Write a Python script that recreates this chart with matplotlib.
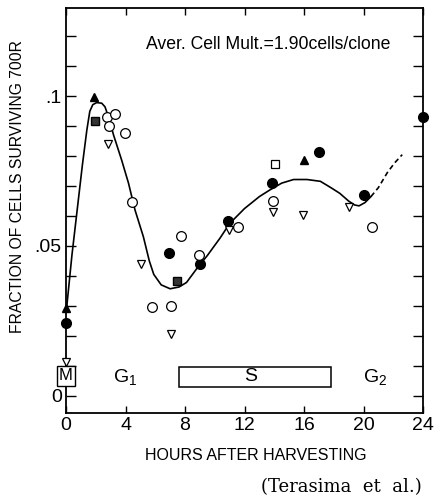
import matplotlib
matplotlib.use("Agg")
import matplotlib.pyplot as plt
from matplotlib.patches import Rectangle
from matplotlib import font_manager

# Narrow sans if available, otherwise Liberation Sans, DejaVu as last fallback
installed = {f.name for f in font_manager.fontManager.ttflist}
sans = [f for f in ['Liberation Sans Narrow', 'DejaVu Sans Condensed', 'Liberation Sans'] if f in installed]
plt.rcParams['font.family'] = sans + ['DejaVu Sans']
plt.rcParams['mathtext.fontset'] = 'custom'
plt.rcParams['mathtext.rm'] = sans[0] if sans else 'DejaVu Sans'
plt.rcParams['mathtext.it'] = sans[0] if sans else 'DejaVu Sans'

# Data (hours after harvesting, surviving fraction)
filled_circle_x = [0.0, 6.9, 9.0, 10.9, 13.87, 17.0, 20.05, 24.0]
filled_circle_y = [0.0242, 0.0478, 0.0440, 0.0585, 0.0709, 0.0815, 0.0669, 0.0932]

filled_tri_x = [0.0, 1.9, 16.0]
filled_tri_y = [0.0294, 0.0998, 0.0787]

filled_sq_x = [1.93, 7.48]
filled_sq_y = [0.0917, 0.0384]

open_sq_x = [14.03]
open_sq_y = [0.0773]

open_circle_x = [2.73, 3.31, 2.87, 3.97, 4.46, 5.76, 7.04, 7.73, 8.94, 11.58, 13.94, 20.55]
open_circle_y = [0.0930, 0.0942, 0.0900, 0.0877, 0.0647, 0.0297, 0.0300, 0.0533, 0.0470, 0.0564, 0.0651, 0.0564]

open_tri_x = [0.0, 2.84, 5.02, 7.04, 10.96, 13.94, 15.95, 19.03]
open_tri_y = [0.0114, 0.0840, 0.0439, 0.0206, 0.0553, 0.0615, 0.0604, 0.0631]

# Hand-drawn fit curve
curve_x = [0.05, 0.4, 0.75, 1.1, 1.4, 1.6, 1.8, 2.06, 2.4, 2.62, 2.85, 3.2, 3.74, 4.2, 4.64,
           5.2, 5.6, 5.9, 6.4, 7.0, 7.6, 8.1, 8.8, 9.5, 10.35, 11.0, 12.0, 13.0, 13.7, 14.5,
           15.3, 16.2, 17.1, 17.8, 18.4, 19.0, 19.4, 19.7, 20.1, 20.5]
curve_y = [0.0297, 0.047, 0.062, 0.077, 0.0887, 0.095, 0.0972, 0.0979, 0.0977, 0.0965, 0.0932,
           0.087, 0.0787, 0.071, 0.062, 0.0531, 0.045, 0.0405, 0.037, 0.0357, 0.0363, 0.0378,
           0.0425, 0.0468, 0.0526, 0.0575, 0.0625, 0.0665, 0.0687, 0.071, 0.0722, 0.0722,
           0.0716, 0.0695, 0.0676, 0.065, 0.0637, 0.0634, 0.0645, 0.0665]
dash_x = [20.5, 21.0, 21.6, 22.1, 22.6]
dash_y = [0.0665, 0.0695, 0.0745, 0.0778, 0.0805]

x_ticks = [0, 4, 8, 12, 16, 20, 24]
y_tick_labels = ['0', '', '', '', '', '.05', '', '', '', '', '.1', '', '']

fig = plt.figure(figsize=(4.38, 5.0), dpi=100)
ax = fig.add_axes([0.1507, 0.1746, 0.8151, 0.8094])

ax.plot(curve_x, curve_y, color='black', lw=1.2, zorder=2)
ax.plot(dash_x, dash_y, color='black', lw=1.2, ls=(0, (3, 2)), zorder=2)

ms = 7
ax.plot(filled_circle_x, filled_circle_y, 'o', ms=ms, mfc='black', mec='black', clip_on=False, zorder=3)
ax.plot(filled_tri_x, filled_tri_y, '^', ms=6, mfc='black', mec='black', clip_on=False, zorder=3)
ax.plot(filled_sq_x, filled_sq_y, 's', ms=5.5, mfc='#333333', mec='black', zorder=3)
ax.plot(open_sq_x, open_sq_y, 's', ms=5.5, mfc='white', mec='black', mew=0.9, zorder=3)
ax.plot(open_circle_x, open_circle_y, 'o', ms=ms, mfc='white', mec='black', mew=0.9, zorder=3)
ax.plot(open_tri_x, open_tri_y, 'v', ms=6, mfc='white', mec='black', mew=0.9, clip_on=False, zorder=3)

# Cell cycle phases
ax.text(0, 0.0066, 'M', ha='center', va='center', fontsize=12,
        bbox=dict(boxstyle='square,pad=0.15', fc='white', ec='black', lw=1))
ax.text(4.0, 0.0062, 'G$_{1}$', ha='center', va='center', fontsize=14)
ax.add_patch(Rectangle((7.6, 0.003), 10.2, 0.0067, fill=False, ec='black', lw=1.1))
ax.text(12.4, 0.0064, 'S', ha='center', va='center', fontsize=14)
ax.text(20.8, 0.0062, 'G$_{2}$', ha='center', va='center', fontsize=14)

ax.text(0.224, 0.909, 'Aver. Cell Mult.=1.90cells/clone', transform=ax.transAxes,
        ha='left', va='center', fontsize=12.7)

ax.set_xlim(0, 24)
ax.set_ylim(-0.0057, 0.1295)
ax.set_xticks(x_ticks)
ax.set_xticklabels([str(t) for t in x_ticks], fontsize=14)
ax.set_yticks([i / 100 for i in range(13)])
ax.set_yticklabels(y_tick_labels, fontsize=14)
ax.tick_params(axis='x', direction='in', length=5, width=1, top=True, pad=3)
ax.tick_params(axis='y', direction='in', length=7, width=1, right=True, pad=3)
for s in ax.spines.values():
    s.set_linewidth(1.3)

ax.set_xlabel('HOURS AFTER HARVESTING', fontsize=11.5)
ax.xaxis.set_label_coords(0.532, -0.087)
ax.set_ylabel('FRACTION OF CELLS SURVIVING 700R', fontsize=11.3)
ax.yaxis.set_label_coords(-0.115, 0.56)

fig.text(0.964, 0.026, '(Terasima  et  al.)', ha='right', va='center', fontsize=13,
         family=['DejaVu Serif'])

fig.savefig('out.png', dpi=100)
